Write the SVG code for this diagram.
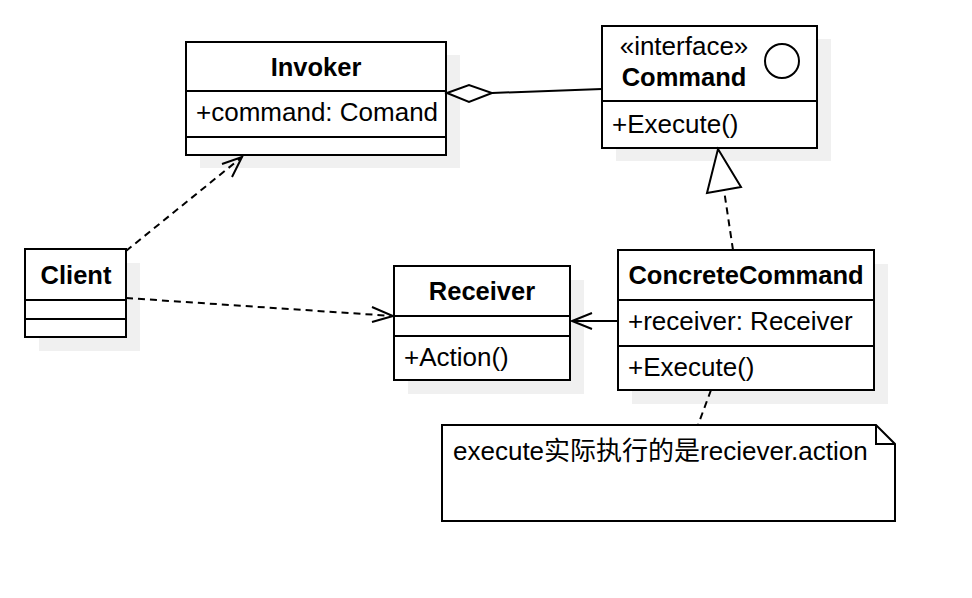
<svg xmlns="http://www.w3.org/2000/svg" width="972" height="598" viewBox="0 0 972 598">
<defs>
<style>
text{font-family:"Liberation Sans","Noto Sans CJK SC",sans-serif;font-size:26px;fill:#000}
.b{font-weight:bold;font-size:25.5px}
.m{text-anchor:middle}
.box{fill:#fff;stroke:#000;stroke-width:2}
.sh{fill:#f0f0f0;stroke:none}
.ln{fill:none;stroke:#000;stroke-width:2}
.dash{fill:none;stroke:#000;stroke-width:2;stroke-dasharray:7 5}
</style>
</defs>
<rect width="972" height="598" fill="#fff"/>
<g id="Invoker">
<rect class="sh" x="200" y="55" width="260" height="113"/>
<rect class="box" x="186" y="42" width="260" height="113"/>
<line class="ln" x1="186" y1="91" x2="446" y2="91"/>
<line class="ln" x1="186" y1="137" x2="446" y2="137"/>
<text class="b m" x="316" y="76">Invoker</text>
<text x="196" y="121">+command: Comand</text>
</g>
<g id="Command">
<rect class="sh" x="616" y="39" width="215" height="122"/>
<rect class="box" x="602" y="26" width="215" height="122"/>
<line class="ln" x1="602" y1="101" x2="817" y2="101"/>
<circle class="ln" cx="782" cy="61" r="17"/>
<text class="m" x="684" y="55">«interface»</text>
<text class="b m" x="684" y="86">Command</text>
<text x="612" y="133">+Execute()</text>
</g>
<g id="Client">
<rect class="sh" x="39" y="263" width="101" height="88"/>
<rect class="box" x="25" y="249" width="101" height="88"/>
<line class="ln" x1="25" y1="300" x2="126" y2="300"/>
<line class="ln" x1="25" y1="319" x2="126" y2="319"/>
<text class="b m" x="76" y="284">Client</text>
</g>
<g id="Receiver">
<rect class="sh" x="408" y="280" width="176" height="114"/>
<rect class="box" x="394" y="266" width="176" height="114"/>
<line class="ln" x1="394" y1="316" x2="570" y2="316"/>
<line class="ln" x1="394" y1="336" x2="570" y2="336"/>
<text class="b m" x="482" y="300">Receiver</text>
<text x="404" y="366">+Action()</text>
</g>
<g id="ConcreteCommand">
<rect class="sh" x="632" y="264" width="256" height="140"/>
<rect class="box" x="618" y="250" width="256" height="140"/>
<line class="ln" x1="618" y1="300" x2="874" y2="300"/>
<line class="ln" x1="618" y1="346" x2="874" y2="346"/>
<text class="b m" x="746" y="284">ConcreteCommand</text>
<text x="628" y="330">+receiver: Receiver</text>
<text x="628" y="376">+Execute()</text>
</g>
<g id="Note">
<path class="box" d="M442,425 H876 L895,444 V521 H442 Z"/>
<path class="ln" d="M876,425 V444 H895"/>
<text x="453" y="460">execute实际执行的是reciever.action</text>
</g>
<g id="connectors">
<line class="ln" x1="492" y1="93" x2="602" y2="89"/>
<path class="box" d="M447,93 L469,85 L492,93 L469,102 Z"/>
<line class="dash" x1="126" y1="251" x2="242" y2="157"/>
<path class="ln" d="M222,164 L242,157 L232,177"/>
<line class="dash" x1="126" y1="298" x2="393" y2="316"/>
<path class="ln" d="M372,307 L393,316 L372,322"/>
<line class="ln" x1="618" y1="321" x2="572" y2="321"/>
<path class="ln" d="M592,313 L572,321 L592,329"/>
<line class="dash" x1="733" y1="250" x2="724" y2="190"/>
<path class="box" d="M718,149 L741,187 L707,193 Z"/>
<line class="dash" x1="711" y1="390" x2="698" y2="425"/>
</g>
</svg>
